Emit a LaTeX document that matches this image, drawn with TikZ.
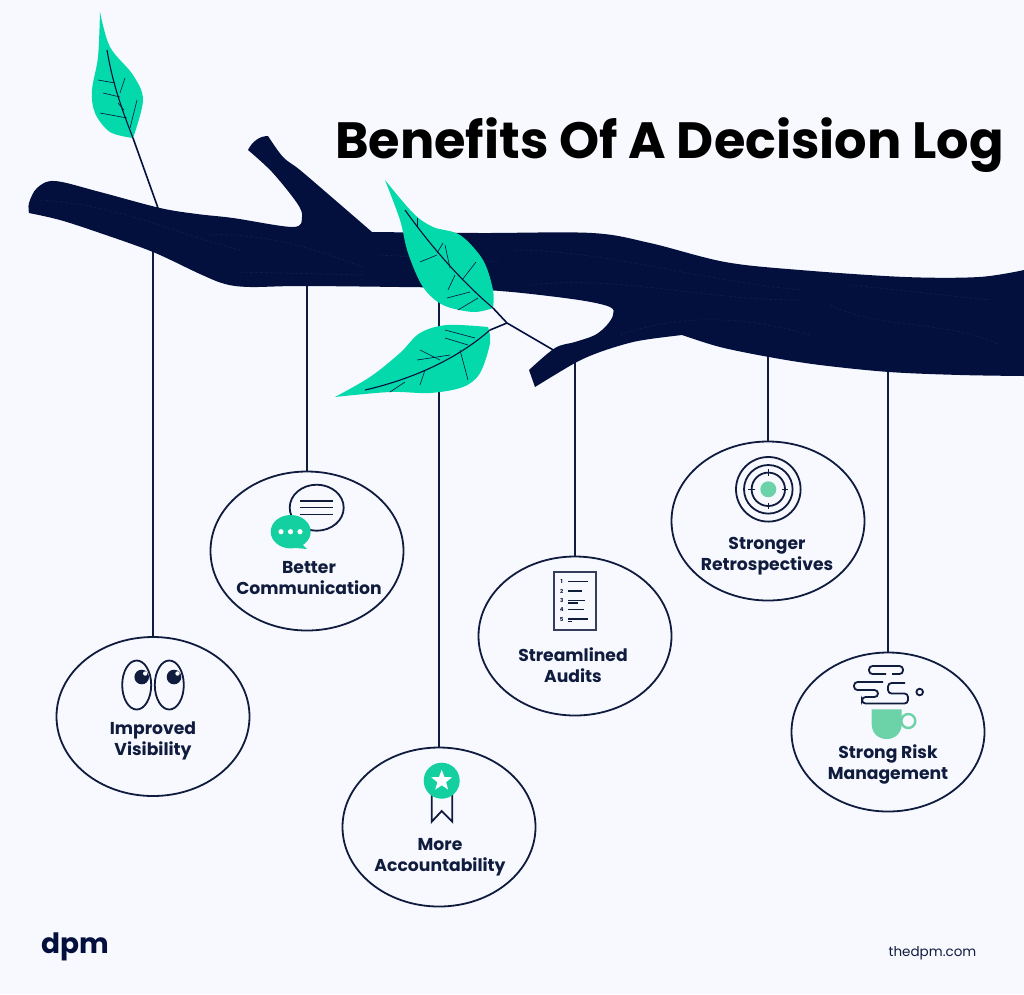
\documentclass[tikz,border=0pt]{standalone}
\usepackage{fontspec}
\setsansfont{Poppins}
\usetikzlibrary{shapes.geometric}

\definecolor{page color}{RGB}{248,249,254}
\definecolor{branch color}{RGB}{3,16,62}
\definecolor{grain color}{RGB}{20,33,80}
\definecolor{line color}{RGB}{16,28,62}
\definecolor{leaf color}{RGB}{3,217,170}
\definecolor{icon color}{RGB}{108,210,168}
\definecolor{bubble color}{RGB}{20,207,160}

\tikzset{
	bough/.style={smooth, tension=.55},
	hanger/.style={draw=line color, line width=1.8pt},
	benefit/.style={ellipse, draw=line color, line width=1.8pt, minimum width=193pt, minimum height=159pt, inner sep=0pt},
	caption/.style={font=\sffamily\bfseries\fontsize{17.2}{21}\selectfont, text=line color, align=center, inner sep=0pt},
	vein/.style={draw=branch color, line width=.6pt},
	rib/.style={draw=branch color, line width=1.1pt},
	stem/.style={draw=branch color, line width=1.6pt},
	icon/.style={draw=line color, line width=1.8pt}
}

\begin{document}
\begin{tikzpicture}[x=1pt, y=-1pt, font=\sffamily]
	\useasboundingbox (0,0) rectangle (1024,994);
	\fill [page color] (0,0) rectangle (1024,994);

	\node (visibility) at (153,716.5) [benefit] {};
	\node (communication) at (307,551) [benefit] {};
	\node (accountability) at (439,827) [benefit] {};
	\node (audits) at (575,636) [benefit] {};
	\node (retrospectives) at (768,521) [benefit] {};
	\node (risk) at (888,732) [benefit] {};

	\coordinate (visibility top) at (153,245);
	\coordinate (communication top) at (307,280);
	\coordinate (accountability top) at (439,280);
	\coordinate (audits top) at (575,350);
	\coordinate (retrospectives top) at (768,350);
	\coordinate (risk top) at (888,365);

	\foreach \n in {visibility,communication,accountability,audits,retrospectives,risk}
		\draw [hanger] (\n\space top) -- (\n);

	% branch
	\fill [branch color]
		plot [bough] coordinates {(29,213) (29,203) (37,188) (55,181) (100,192) (160,208) (197,214) (233,218) (293,227) (302,217) (297,203) (272,172) (248,150)}
		.. controls (252,142) and (259,136) .. (268,136)
		-- plot [bough] coordinates {(268,136) (283,157) (300,170) (335,200) (372,232)}
		-- plot [bough] coordinates {(372,232) (480,233) (592,233) (650,243) (725,262) (800,270) (905,277) (979,277) (1024,270)}
		-- (1024,376)
		-- plot [bough] coordinates {(1024,376) (960,375) (889,372) (820,365) (769,357) (720,347) (682,335)}
		-- plot [bough] coordinates {(682,335) (650,339) (629,343) (600,352) (575,363) (535,387)}
		-- plot [bough] coordinates {(529,370) (555,348) (575,342) (595,335) (607,325) (613,315) (610,307) (579,300) (512,292) (450,288) (400,287) (300,286) (250,287) (225,284) (200,274) (153,252) (100,233) (60,220) (29,213)}
		-- cycle;

	\begin{scope}[grain color, line width=.5pt, densely dashed]
		\draw (40,200) .. controls (120,205) and (180,235) .. (240,250);
		\draw (210,235) .. controls (260,232) and (320,250) .. (365,268);
		\draw (380,255) -- (500,262);
		\draw (240,272) -- (365,275);
		\draw (515,250) .. controls (600,250) and (700,280) .. (800,290);
		\draw (530,285) .. controls (620,275) and (700,300) .. (800,300);
		\draw (830,305) .. controls (880,330) and (950,320) .. (1000,345);
		\draw (620,335) .. controls (690,310) and (760,320) .. (810,335);
		\draw (850,285) -- (990,300);
	\end{scope}

	% leaves
	\fill [leaf color] plot [bough] coordinates {(100,12) (110,47) (133,75) (143,100) (133,138)}
		-- plot [bough] coordinates {(133,138) (110,132) (95,113) (92,90) (98,57) (100,12)} -- cycle;
	\fill [leaf color] plot [bough] coordinates {(385,180) (413,213) (433,227) (460,235) (483,260) (493,290) (493,308)}
		-- plot [bough] coordinates {(493,308) (473,312) (443,305) (423,287) (408,253) (400,220) (385,180)} -- cycle;
	\fill [leaf color] plot [bough] coordinates {(335,397) (370,377) (400,353) (420,333) (447,325) (488,327)}
		-- plot [bough] coordinates {(488,327) (490,343) (480,373) (463,387) (430,393) (390,392) (335,397)} -- cycle;

	\draw [rib] (107,50) .. controls (112,80) and (120,105) .. (133,138);
	\draw [stem] (133,138) -- (158,208);
	\draw [rib] (405,210) .. controls (430,245) and (460,280) .. (493,308);
	\draw [stem] (493,308) -- (507,323) -- (555,351);
	\draw [rib] (365,390) .. controls (400,382) and (450,365) .. (490,330);
	\draw [stem] (490,330) -- (507,323);

	\foreach \xa/\ya/\xb/\yb in {115/83/98/80, 120/93/125/78, 120/97/103/93, 127/118/100/113, 130/128/137/100, 124/110/118/103,
		417/228/417/218, 437/253/443/243, 437/255/420/262, 462/280/476/262, 470/292/447/298, 478/298/458/310, 450/268/445/245, 455/275/448/290,
		475/338/445/330, 450/355/417/360, 460/350/468/380, 425/370/420/385, 440/360/420/350, 405/382/390/392, 468/345/445/338}
		\draw [vein] (\xa,\ya) -- (\xb,\yb);

	% title and captions
	\node (title) at (669.5,145) [font=\sffamily\bfseries\fontsize{51}{53}\selectfont, text=black, inner sep=0pt] {Benefits Of A Decision Log};

	\node (visibility label) at (153,741) [caption] {Improved\\Visibility};
	\node (communication label) at (309,578) [caption] {Better\\Communication};
	\node (accountability label) at (440,857) [caption] {More\\Accountability};
	\node (audits label) at (573,665) [caption] {Streamlined\\Audits};
	\node (retrospectives label) at (767,556) [caption] {Stronger\\Retrospectives};
	\node (risk label) at (888,764.5) [caption] {Strong Risk\\Management};

	% eyes
	\begin{scope}[line color]
		\draw [icon] (136.7,685) ellipse (14.5pt and 24.5pt);
		\draw [icon] (169.3,685) ellipse (14.5pt and 24.5pt);
		\fill (141.7,677) circle (7.3pt);
		\fill (174,677) circle (7.3pt);
		\fill [white] (145.2,673.5) circle (2.2pt);
		\fill [white] (177.5,673.5) circle (2.2pt);
	\end{scope}

	% speech bubbles
	\draw [icon] (316.7,507.7) ellipse (27pt and 23pt);
	\foreach \y in {501,507.7,514.3}
		\draw [icon, line width=1.3pt] (300,\y) -- (333,\y);
	\fill [bubble color] (290.7,531.7) ellipse (20pt and 16.7pt);
	\fill [bubble color] (298,540) -- (307,549) -- (296,548) -- cycle;
	\foreach \x in {281,290.5,300}
		\fill [white] (\x,531.7) circle (2.6pt);

	% ribbon
	\draw [icon] (431.7,790) -- (431.7,821.7) -- (441.7,811) -- (452.3,821.7) -- (452.3,790);
	\fill [bubble color] (441.7,780.7) circle (18pt);
	\node (ribbon star) at (441.7,780.7) [star, star points=5, star point ratio=2.4, minimum size=22pt, inner sep=0pt, fill=white] {};

	% list
	\draw [icon, draw=line color!85] (554.3,572.3) rectangle (596.3,630);
	\foreach \n/\y/\e in {1/581.7/587.7, 2/591/581.7, 3/600.3/585, 4/609.7/584.3, 5/619/588.3} {
		\node (item \n) at (561.7,\y) [font=\sffamily\bfseries\fontsize{5.5}{6}\selectfont, text=line color, inner sep=0pt] {\n};
		\draw [icon, line width=1.3pt] (568.3,\y) -- (\e,\y);
	}
	\draw [icon, line width=1.3pt] (568.3,603) -- (578.3,603);
	\draw [icon, line width=1.3pt] (568.3,621.5) -- (572.3,621.5);

	% target
	\foreach \r in {32.3,24.3,16.7}
		\draw [icon] (768.3,489.3) circle (\r pt);
	\foreach \a in {0,90,180,270}
		\draw [icon, line width=1.3pt] (768.3,489.3) ++(\a:13.5pt) -- ++(\a:6.5pt);
	\fill [icon color] (768.3,489.3) circle (8pt);

	% cup and steam
	\fill [icon color] (871.7,709.3) -- (901.7,709.3) -- (901.7,724) .. controls (901.7,733) and (895,739) .. (886.7,739) .. controls (878,739) and (871.7,733) .. (871.7,724) -- cycle;
	\draw [icon color, line width=2.4pt] (908.3,721) circle (7pt);
	\draw [icon] (919.7,692) circle (3.3pt);
	\draw [icon, rounded corners=3.5pt] (892,674) -- (903,674) -- (903,666) -- (869,666) -- (869,674) -- (886,674);
	\draw [icon, rounded corners=3.5pt] (883,682) -- (854,682) -- (854,690) -- (878,690) -- (878,697) -- (862,697) -- (862,703.5) -- (908,703.5) -- (908,693.5) -- (888,693.5) -- (888,683) -- (905,683);

	% footer
	\node (logo) at (75,947) [font=\sffamily\bfseries\fontsize{28}{28}\selectfont, text=branch color, inner sep=0pt] {dpm};
	\node (site) at (932.5,953) [font=\sffamily\fontsize{13.5}{14}\selectfont, text=line color, inner sep=0pt] {thedpm.com};
\end{tikzpicture}
\end{document}
